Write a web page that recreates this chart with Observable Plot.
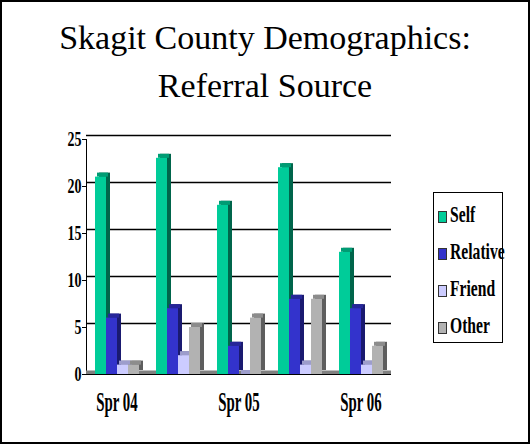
<!DOCTYPE html>
<html><head><meta charset="utf-8">
<script src="https://cdn.jsdelivr.net/npm/d3@7"></script>
<script src="https://cdn.jsdelivr.net/npm/@observablehq/plot@0.6"></script>
<style>
body{margin:0;background:#fff;}
#wrap{position:relative;width:530px;height:444px;overflow:hidden;font-family:"Liberation Serif","Times New Roman",serif;background:#fff;}
#frame{position:absolute;left:0;top:0;width:530px;height:444px;box-sizing:border-box;border:2px solid #000;pointer-events:none;}
#title{position:absolute;left:0;top:14px;width:530px;text-align:center;font-size:34px;line-height:48px;color:#000;}
#chart{position:absolute;left:0;top:0;}
#legend{position:absolute;left:433px;top:192px;width:70px;height:151px;box-sizing:border-box;border:1px solid #000;background:#fff;}
.item{position:absolute;left:4px;height:20px;width:70px;}
.sw{position:absolute;left:0;top:4px;width:7px;height:10px;border:1px solid #333;}
.lab{position:absolute;left:12px;top:-5px;font-weight:bold;font-size:23px;line-height:26px;transform:scaleX(0.68);transform-origin:0 50%;white-space:nowrap;}
</style></head>
<body>
<div id="wrap">
  <div id="chart"></div>
  <div id="title">Skagit County Demographics:<br>Referral Source</div>
  <div id="legend"></div>
  <div id="frame"></div>
</div>
<script>
// ---- data ----
const groups = ["Spr 04", "Fall 04", "Spr 05", "Fall 05", "Spr 06"];
const tickLabels = ["Spr 04", "", "Spr 05", "", "Spr 06"];
const series = ["Self", "Relative", "Friend", "Other"];
const selfValues = [21, 23, 18, 22, 13];
const relativeValues = [6, 7, 3, 8, 7];
const friendValues = [1, 2, 0, 1, 1];
const otherValues = [1, 5, 6, 8, 3];
const yTicks = [0, 5, 10, 15, 20, 25];

// ---- styles ----
const frontColors = ["#00cc99", "#3333cc", "#ccccff", "#b2b2b2"];
const topColors = ["#009c74", "#262699", "#9d9dcc", "#8c8c8c"];
const sideColors = ["#00654b", "#1a1a70", "#7272a0", "#5e5e5e"];

const valuesBySeries = [selfValues, relativeValues, friendValues, otherValues];
const rows = groups.flatMap((g, i) => series.map((s, j) => ({group: g, series: s, si: j, value: valuesBySeries[j][i]})));

const chart = Plot.plot({
  width: 530, height: 444,
  marginLeft: 86, marginRight: 139, marginTop: 139, marginBottom: 70,
  style: {fontFamily: '"Liberation Serif","Times New Roman",serif', fontWeight: "bold", fontSize: "20px", background: "transparent", color: "#000", overflow: "visible"},
  facet: {data: rows, x: "group"},
  fx: {domain: groups, padding: 0, axis: "bottom", label: null, tickSize: 0, tickPadding: 17, tickFormat: d => tickLabels[groups.indexOf(d)]},
  x: {domain: series, axis: null, paddingInner: 0, paddingOuter: 0.77},
  y: {domain: [0, 25], ticks: yTicks, tickSize: 4, tickPadding: 1, label: null, line: true},
  color: {type: "identity"},
  marks: [
    Plot.ruleY(yTicks.filter(t => t > 0), {dy: -4, stroke: "#000", strokeWidth: 1.5}),
    Plot.ruleY([0], {dy: -2, stroke: "#808080", strokeWidth: 4}),
    Plot.ruleY([0], {stroke: "#000", strokeWidth: 1}),
    Plot.barY(rows, {x: "series", y1: 0, y2: "value", dx: 4, dy: -4, fill: d => sideColors[d.si]}),
    Plot.barY(rows, {x: "series", y1: "value", y2: "value", insetTop: -4, dx: 2, fill: d => topColors[d.si]}),
    Plot.barY(rows, {x: "series", y1: 0, y2: "value", fill: d => frontColors[d.si]})
  ]
});
document.getElementById("chart").appendChild(chart);

// condense text like the reference
chart.querySelectorAll("text").forEach(t => {
  const txt = t.textContent.trim();
  if (!txt) return;
  const isX = tickLabels.includes(txt);
  t.style.fontSize = isX ? "27px" : "20px";
  t.style.fontWeight = "bold";
  const len = t.getComputedTextLength();
  const k = isX ? 0.55 : 0.7;
  t.setAttribute("textLength", (len * k).toFixed(1));
  t.setAttribute("lengthAdjust", "spacingAndGlyphs");
});

// legend
const legend = document.getElementById("legend");
series.forEach((s, j) => {
  const item = document.createElement("div");
  item.className = "item";
  item.style.top = (14 + j * 37) + "px";
  const sw = document.createElement("div");
  sw.className = "sw";
  sw.style.background = frontColors[j];
  const lab = document.createElement("div");
  lab.className = "lab";
  lab.textContent = s;
  item.appendChild(sw); item.appendChild(lab);
  legend.appendChild(item);
});
</script>
</body></html>
